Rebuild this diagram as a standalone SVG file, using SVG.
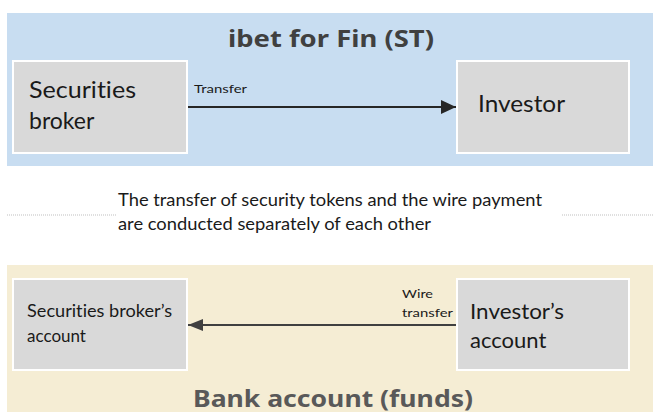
<svg xmlns="http://www.w3.org/2000/svg" width="653" height="414" viewBox="0 0 653 414">
<style>
.panelTitle{font-family:"Noto Sans","Open Sans",sans-serif;font-weight:bold;font-size:24px;}
.box{fill:#D9D9D9;stroke:#FFFFFF;stroke-width:2;}
.lbl{font-family:Lato,"Open Sans",sans-serif;fill:#1A1A1A;font-variant-ligatures:none;}
.small{font-family:Lato,"Open Sans",sans-serif;font-size:12px;fill:#1A1A1A;font-variant-ligatures:none;}
.mid{font-family:Lato,"Open Sans",sans-serif;font-size:17px;fill:#1A1A1A;font-variant-ligatures:none;}
.conn{stroke-width:2;fill:none;}
.dots{stroke:#BFBFBF;stroke-width:1;stroke-dasharray:1 1;}
</style>
<defs>
<marker id="ahTop" markerWidth="16" markerHeight="14" refX="15" refY="7" orient="auto" markerUnits="userSpaceOnUse">
<path d="M0,0 L15,7 L0,14 Z" fill="#262626"/>
</marker>
<marker id="ahBot" markerWidth="16" markerHeight="14" refX="15" refY="6" orient="auto" markerUnits="userSpaceOnUse">
<path d="M0,0 L15,6 L0,12 Z" fill="#404040"/>
</marker>
</defs>
<rect width="653" height="414" fill="#FFFFFF"/>
<g id="panel-st">
<rect x="7" y="13" width="646" height="153" fill="#C8DDF1"/>
<text class="panelTitle" x="228" y="47" fill="#404040" font-size="23" textLength="206" lengthAdjust="spacingAndGlyphs">ibet for Fin (ST)</text>
</g>
<g id="panel-bank">
<rect x="7" y="265" width="646" height="147" fill="#F5EDD4"/>
<text class="panelTitle" x="193" y="407" fill="#595959" font-size="25" textLength="280" lengthAdjust="spacingAndGlyphs">Bank account (funds)</text>
</g>
<g id="node-broker">
<rect class="box" x="13" y="61" width="174" height="92"/>
<text class="lbl" font-size="23" x="29" y="98" textLength="107" lengthAdjust="spacingAndGlyphs">Securities</text>
<text class="lbl" font-size="23" x="29" y="129">broker</text>
</g>
<g id="node-investor">
<rect class="box" x="457" y="61" width="172" height="92"/>
<text class="lbl" font-size="23" x="478" y="112" textLength="87" lengthAdjust="spacingAndGlyphs">Investor</text>
</g>
<g id="node-broker-account">
<rect class="box" x="13" y="279" width="174" height="91"/>
<text class="lbl" font-size="17" x="27" y="317" textLength="145" lengthAdjust="spacingAndGlyphs">Securities broker’s</text>
<text class="lbl" font-size="17" x="27" y="342">account</text>
</g>
<g id="node-investor-account">
<rect class="box" x="457" y="279" width="172" height="91"/>
<text class="lbl" font-size="22" x="470" y="319" textLength="94" lengthAdjust="spacingAndGlyphs">Investor’s</text>
<text class="lbl" font-size="22" x="470" y="348">account</text>
</g>
<g id="note">
<line class="dots" x1="7" y1="215" x2="117" y2="215"/>
<line class="dots" x1="562" y1="215" x2="653" y2="215"/>
<text class="mid" x="118" y="206" textLength="424" lengthAdjust="spacingAndGlyphs">The transfer of security tokens and the wire payment</text>
<text class="mid" x="118" y="230" textLength="313" lengthAdjust="spacingAndGlyphs">are conducted separately of each other</text>
</g>
<g id="connectors">
<line class="conn" x1="188" y1="107" x2="456" y2="107" stroke="#262626" marker-end="url(#ahTop)"/>
<text class="small" x="194" y="93" textLength="53" lengthAdjust="spacingAndGlyphs">Transfer</text>
<line class="conn" x1="456" y1="325" x2="188" y2="325" stroke="#404040" marker-end="url(#ahBot)"/>
<text class="small" x="402" y="298" textLength="31" lengthAdjust="spacingAndGlyphs">Wire</text>
<text class="small" x="402" y="317" textLength="51" lengthAdjust="spacingAndGlyphs">transfer</text>
</g>
</svg>
